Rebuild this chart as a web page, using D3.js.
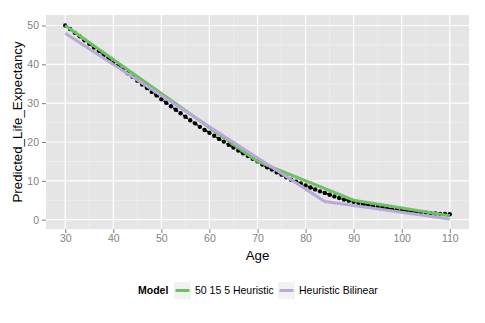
<!DOCTYPE html>
<html>
<head>
<meta charset="utf-8">
<script src="https://cdn.jsdelivr.net/npm/d3@7"></script>
<style>
  html, body { margin: 0; padding: 0; background: #fff; }
  svg { display: block; font-family: "Liberation Sans", Arial, sans-serif; }
</style>
</head>
<body>
<svg id="chart" width="485" height="323"></svg>
<script>
// Observed predicted life expectancy by age (black dotted series)
const ages = d3.range(30, 111);
const observed = [
  50.0, 49.1, 48.1, 47.2, 46.2, 45.3, 44.3, 43.4, 42.4, 41.5,
  40.5, 39.6, 38.7, 37.7, 36.8, 35.8, 34.8, 33.9, 32.9, 32.0,
  31.0, 30.1, 29.2, 28.3, 27.4, 26.5, 25.6, 24.8, 23.9, 23.1,
  22.4, 21.6, 20.8, 20.1, 19.3, 18.6, 17.8, 17.1, 16.4, 15.7,
  15.0, 14.2, 13.5, 12.9, 12.2, 11.6, 10.9, 10.3, 9.8, 9.3,
  8.8, 8.3, 7.8, 7.3, 6.9, 6.4, 6.0, 5.6, 5.2, 4.9,
  4.6, 4.3, 4.0, 3.8, 3.5, 3.3, 3.1, 2.9, 2.7, 2.6,
  2.4, 2.3, 2.2, 2.0, 1.9, 1.8, 1.7, 1.6, 1.5, 1.5,
  1.4
];

// Model curves (piecewise linear vertices)
const modelNames = ["50 15 5 Heuristic", "Heuristic Bilinear"];
const heuristicAges = [30, 70, 90, 110];
const heuristicValues = [50, 15, 5, 1];
const bilinearAges = [30, 84, 110];
const bilinearValues = [48, 4.7, 0.2];
const modelColors = ["#6cc165", "#b9a9d9"];

const xTicks = [30, 40, 50, 60, 70, 80, 90, 100, 110];
const yTicks = [0, 10, 20, 30, 40, 50];

const svg = d3.select("#chart");
const panel = { left: 46, top: 15, right: 469, bottom: 229 };

const x = d3.scaleLinear().domain([26, 114]).range([panel.left, panel.right]);
const y = d3.scaleLinear().domain([-2.4, 52.7]).range([panel.bottom, panel.top]);

// panel background
svg.append("rect")
  .attr("x", panel.left).attr("y", panel.top)
  .attr("width", panel.right - panel.left)
  .attr("height", panel.bottom - panel.top)
  .attr("fill", "#e5e5e5");

const grid = svg.append("g");
// minor grid lines
const xMinor = xTicks.slice(0, -1).map(d => d + 5);
const yMinor = yTicks.slice(0, -1).map(d => d + 5);
grid.selectAll(".xminor").data(xMinor).join("line")
  .attr("x1", d => x(d)).attr("x2", d => x(d))
  .attr("y1", panel.top).attr("y2", panel.bottom)
  .attr("stroke", "#f2f2f2").attr("stroke-width", 0.6);
grid.selectAll(".yminor").data(yMinor).join("line")
  .attr("y1", d => y(d)).attr("y2", d => y(d))
  .attr("x1", panel.left).attr("x2", panel.right)
  .attr("stroke", "#f2f2f2").attr("stroke-width", 0.6);
// major grid lines
grid.selectAll(".xmajor").data(xTicks).join("line")
  .attr("x1", d => x(d)).attr("x2", d => x(d))
  .attr("y1", panel.top).attr("y2", panel.bottom)
  .attr("stroke", "#ffffff").attr("stroke-width", 1.2);
grid.selectAll(".ymajor").data(yTicks).join("line")
  .attr("y1", d => y(d)).attr("y2", d => y(d))
  .attr("x1", panel.left).attr("x2", panel.right)
  .attr("stroke", "#ffffff").attr("stroke-width", 1.2);

// observed series: dotted line + points
const obsData = ages.map((a, i) => ({ a, v: observed[i] }));
const line = d3.line().x(d => x(d.a)).y(d => y(d.v));
svg.append("path")
  .datum(obsData)
  .attr("d", line)
  .attr("fill", "none")
  .attr("stroke", "#000")
  .attr("stroke-width", 1.6)
  .attr("stroke-dasharray", "2,2");
svg.selectAll(".pt").data(obsData).join("circle")
  .attr("cx", d => x(d.a)).attr("cy", d => y(d.v))
  .attr("r", 2.2).attr("fill", "#000");

// model lines
const models = [
  heuristicAges.map((a, i) => ({ a, v: heuristicValues[i] })),
  bilinearAges.map((a, i) => ({ a, v: bilinearValues[i] }))
];
models.forEach((m, i) => {
  svg.append("path")
    .datum(m)
    .attr("d", line)
    .attr("fill", "none")
    .attr("stroke", modelColors[i])
    .attr("stroke-width", 3)
    .attr("stroke-linejoin", "round");
});

// axes
const xAxis = svg.append("g")
  .attr("transform", `translate(0,${panel.bottom})`)
  .call(d3.axisBottom(x).tickValues(xTicks).tickSize(4).tickPadding(2));
const yAxis = svg.append("g")
  .attr("transform", `translate(${panel.left},0)`)
  .call(d3.axisLeft(y).tickValues(yTicks).tickSize(4).tickPadding(3));
[xAxis, yAxis].forEach(g => {
  g.select(".domain").remove();
  g.selectAll(".tick line").attr("stroke", "#7f7f7f");
  g.selectAll(".tick text")
    .attr("fill", "#7f7f7f")
    .style("font-size", "10.5px")
    .style("font-family", "'Liberation Sans', Arial, sans-serif");
});

// axis titles
svg.append("text")
  .attr("x", (panel.left + panel.right) / 2)
  .attr("y", 260)
  .attr("text-anchor", "middle")
  .style("font-size", "13.3px")
  .text("Age");
svg.append("text")
  .attr("transform", `translate(22,${(panel.top + panel.bottom) / 2}) rotate(-90)`)
  .attr("text-anchor", "middle")
  .style("font-size", "13.3px")
  .text("Predicted_Life_Expectancy");

// legend
const legend = svg.append("g");
legend.append("text")
  .attr("x", 138).attr("y", 294)
  .style("font-size", "10.5px")
  .style("font-weight", "bold")
  .text("Model");
const keyX = [174, 278];
modelNames.forEach((name, i) => {
  const g = legend.append("g").attr("transform", `translate(${keyX[i]},282)`);
  g.append("rect").attr("width", 17).attr("height", 17).attr("fill", "#f2f2f2");
  g.append("line")
    .attr("x1", 1.5).attr("x2", 15.5).attr("y1", 8.5).attr("y2", 8.5)
    .attr("stroke", modelColors[i]).attr("stroke-width", 3);
  g.append("text")
    .attr("x", 21).attr("y", 12)
    .style("font-size", "10.5px")
    .text(name);
});
</script>
</body>
</html>
